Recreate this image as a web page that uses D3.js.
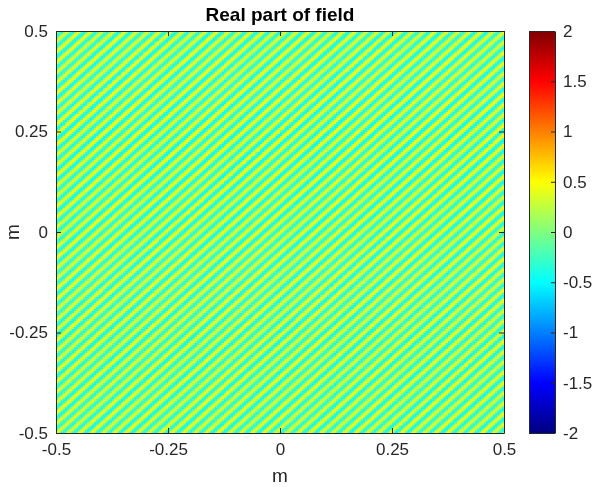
<!DOCTYPE html>
<html>
<head>
<meta charset="utf-8">
<script src="https://cdn.jsdelivr.net/npm/d3@7"></script>
<style>
  body { margin: 0; background: #fff; }
  #wrap { position: relative; width: 592px; height: 487px; }
  #wrap canvas, #wrap svg { position: absolute; left: 0; top: 0; }
  text { font-family: "Liberation Sans", Arial, sans-serif; fill: #262626; }
  .axis path, .axis line { stroke: #262626; }
</style>
</head>
<body>
<div id="wrap"></div>
<script>
// ---- data ----
const xTicks = [-0.5, -0.25, 0, 0.25, 0.5];
const yTicks = [-0.5, -0.25, 0, 0.25, 0.5];
const colorTicks = [-2, -1.5, -1, -0.5, 0, 0.5, 1, 1.5, 2];
const colorLimits = [-2, 2];
const gridSize = 200;            // cells per side (the image is visibly pixelated ~2px)
const stripeCountX = 39;         // stripes crossing the x range
const stripeCountY = -39;        // stripes crossing the y range (lines run bottom-left to top-right)
// one stripe period, sampled across its width (yellow crest -> cyan trough -> yellow)
const stripeProfile = [0.5, 0.43, 0.25, 0.0, -0.25, -0.43, -0.5, -0.43, -0.25, 0.0, 0.25, 0.43];
// jet colour stops
const jetStops = [0, 0.125, 0.375, 0.625, 0.875, 1];
const jetColors = ['#000080', '#0000ff', '#00ffff', '#ffff00', '#ff0000', '#800000'];

const W = 592, H = 487;
const margin = {left: 56, right: 88, top: 31, bottom: 54};
const innerW = W - margin.left - margin.right;   // 448
const innerH = H - margin.top - margin.bottom;   // 402

const wrap = d3.select('#wrap');
const canvas = wrap.append('canvas').attr('width', W).attr('height', H);
const ctx = canvas.node().getContext('2d');
const svg = wrap.append('svg').attr('width', W).attr('height', H);

const xScale = d3.scaleLinear().domain([-0.5, 0.5]).range([margin.left, margin.left + innerW]);
const yScale = d3.scaleLinear().domain([-0.5, 0.5]).range([margin.top + innerH, margin.top]);
const colorScale = d3.scaleLinear()
  .domain(jetStops.map(s => colorLimits[0] + s * (colorLimits[1] - colorLimits[0])))
  .range(jetColors)
  .clamp(true);

// cells
const cellIdx = d3.range(gridSize);
const step = 1 / gridSize;
cellIdx.forEach(i => {
  const x0 = -0.5 + i * step;
  cellIdx.forEach(j => {
    const y0 = -0.5 + j * step;
    const cx = x0 + step / 2, cy = y0 + step / 2;
    let phase = (stripeCountX * (cx + 0.5) + stripeCountY * (cy + 0.5)) % 1;
    if (phase < 0) phase += 1;
    const v = stripeProfile[Math.floor(phase * stripeProfile.length) % stripeProfile.length];
    ctx.fillStyle = colorScale(v);
    const px0 = xScale(x0), px1 = xScale(x0 + step);
    const py0 = yScale(y0 + step), py1 = yScale(y0);
    ctx.fillRect(px0, py0, px1 - px0 + 0.5, py1 - py0 + 0.5);
  });
});

// axes (ticks inside, box on)
const tickLen = 5;
const fmt = d => d3.format('')(d).replace('\u2212', '-');
svg.append('g').attr('class', 'axis')
  .attr('transform', `translate(0,${margin.top + innerH})`)
  .call(d3.axisBottom(xScale).tickValues(xTicks).tickSizeInner(-tickLen).tickSizeOuter(0).tickPadding(10).tickFormat(fmt))
  .call(g => g.selectAll('text').style('font-size', '17px').attr('dy', '0.71em'));
svg.append('g').attr('class', 'axis')
  .attr('transform', `translate(0,${margin.top})`)
  .call(d3.axisTop(xScale).tickValues(xTicks).tickSizeInner(-tickLen).tickSizeOuter(0).tickFormat(''));
svg.append('g').attr('class', 'axis')
  .attr('transform', `translate(${margin.left},0)`)
  .call(d3.axisLeft(yScale).tickValues(yTicks).tickSizeInner(-tickLen).tickSizeOuter(0).tickPadding(8).tickFormat(fmt))
  .call(g => g.selectAll('text').style('font-size', '17px'));
svg.append('g').attr('class', 'axis')
  .attr('transform', `translate(${margin.left + innerW},0)`)
  .call(d3.axisRight(yScale).tickValues(yTicks).tickSizeInner(-tickLen).tickSizeOuter(0).tickFormat(''));
svg.selectAll('.axis .domain').attr('stroke-width', 1);

// colorbar
const cbLeft = 529, cbWidth = 26;
const cbScale = d3.scaleLinear().domain(colorLimits).range([margin.top + innerH, margin.top]);
const defs = svg.append('defs');
const grad = defs.append('linearGradient').attr('id', 'jet')
  .attr('x1', 0).attr('y1', 1).attr('x2', 0).attr('y2', 0);
grad.selectAll('stop').data(jetStops).join('stop')
  .attr('offset', d => d)
  .attr('stop-color', (d, i) => jetColors[i]);
svg.append('rect')
  .attr('x', cbLeft).attr('y', margin.top)
  .attr('width', cbWidth).attr('height', innerH)
  .attr('fill', 'url(#jet)');
svg.append('g').attr('class', 'axis')
  .attr('transform', `translate(${cbLeft + cbWidth},0)`)
  .call(d3.axisRight(cbScale).tickValues(colorTicks).tickSizeInner(-4).tickSizeOuter(0).tickPadding(8).tickFormat(fmt))
  .call(g => g.selectAll('text').style('font-size', '17px'));
svg.append('g').attr('class', 'axis')
  .attr('transform', `translate(${cbLeft},0)`)
  .call(d3.axisLeft(cbScale).tickValues([]).tickSizeOuter(0));
svg.append('line').attr('x1', cbLeft).attr('x2', cbLeft + cbWidth)
  .attr('y1', margin.top + 0.5).attr('y2', margin.top + 0.5).attr('stroke', '#262626');
svg.append('line').attr('x1', cbLeft).attr('x2', cbLeft + cbWidth)
  .attr('y1', margin.top + innerH + 0.5).attr('y2', margin.top + innerH + 0.5).attr('stroke', '#262626');

// labels
svg.append('text')
  .attr('x', margin.left + innerW / 2).attr('y', 21)
  .attr('text-anchor', 'middle')
  .style('font-size', '19px').style('font-weight', 'bold')
  .style('fill', '#000')
  .text('Real part of field');
svg.append('text')
  .attr('x', margin.left + innerW / 2).attr('y', 482)
  .attr('text-anchor', 'middle')
  .style('font-size', '19px')
  .text('m');
svg.append('text')
  .attr('transform', `translate(19,${margin.top + innerH / 2}) rotate(-90)`)
  .attr('text-anchor', 'middle')
  .style('font-size', '19px')
  .text('m');
</script>
</body>
</html>
